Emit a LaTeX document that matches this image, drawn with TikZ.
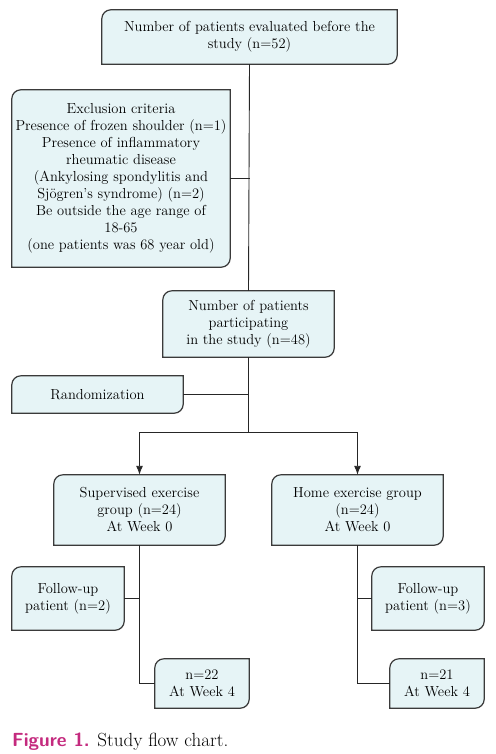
\documentclass[tikz,border=0pt]{standalone}
\usetikzlibrary{arrows.meta,calc}
\definecolor{boxfill}{HTML}{E6F4F6}
\definecolor{boxline}{HTML}{3A3A3A}
\definecolor{capmag}{HTML}{C42A7E}
\pgfdeclarelayer{background}
\pgfsetlayers{background,main}
\tikzset{
  fbox/.style={draw=none, align=center, inner sep=1pt, font=\fontsize{14.5}{17}\selectfont},
  conn/.style={draw=black!85, line width=0.9pt},
  arr/.style={conn, -{Latex[length=9pt,width=7pt]}},
  outline/.style={draw=boxline, fill=boxfill, line width=1.2pt}
}
\newcommand{\rbx}[1]{%
  \begin{pgfonlayer}{background}
  \path[outline] (#1.south west) -- ([yshift=-9pt]#1.north west) arc[start angle=180,end angle=90,radius=9pt] -- (#1.north east) -- ([yshift=9pt]#1.south east) arc[start angle=0,end angle=-90,radius=9pt] -- cycle;
  \end{pgfonlayer}}
\begin{document}
\begin{tikzpicture}[x=1pt,y=-1pt]
\useasboundingbox (0,0) rectangle (495,754);
\node[fbox, minimum width=295pt, minimum height=54pt] (top) at (249.5,37) {Number of patients evaluated before the\\study (n=52)};
\node[fbox, minimum width=218pt, minimum height=177pt] (excl) at (121,178.5) {Exclusion criteria\\Presence of frozen shoulder (n=1)\\Presence of inflammatory\\rheumatic disease\\(Ankylosing spondylitis and\\Sj\"ogren's syndrome) (n=2)\\Be outside the age range of\\18-65\\(one patients was 68 year old)};
\node[fbox, minimum width=171pt, minimum height=66pt] (part) at (248.5,324) {Number of patients\\participating\\in the study (n=48)};
\node[fbox, minimum width=171pt, minimum height=37pt] (rand) at (97.5,394.5) {Randomization};
\node[fbox, minimum width=171pt, minimum height=70pt] (sup) at (139.5,510) {Supervised exercise\\group (n=24)\\At Week 0};
\node[fbox, minimum width=171pt, minimum height=70pt] (home) at (357.5,510) {Home exercise group\\(n=24)\\At Week 0};
\node[fbox, minimum width=112pt, minimum height=63pt] (fl) at (68,598.5) {Follow-up\\patient (n=2)};
\node[fbox, minimum width=112pt, minimum height=63pt] (fr) at (428,598.5) {Follow-up\\patient (n=3)};
\node[fbox, minimum width=94pt, minimum height=49pt] (nl) at (202,683.5) {n=22\\At Week 4};
\node[fbox, minimum width=94pt, minimum height=49pt] (nr) at (437,683.5) {n=21\\At Week 4};
\foreach \b in {top,excl,part,rand,sup,home,fl,fr,nl,nr} {\rbx{\b}}
\coordinate (split) at (part.south |- 0,432);
\draw[conn] (top.south) -- (part.north);
\draw[conn] (excl.east) -- (excl.east -| top.south);
\draw[conn] (part.south) -- (split);
\draw[conn] (rand.east) -- (rand.east -| part.south);
\draw[arr] (split) -| (sup.north);
\draw[arr] (split) -| (home.north);
\draw[conn] (sup.south) |- (nl.west);
\draw[conn] (fl.east) -- (fl.east -| sup.south);
\draw[conn] (home.south) |- (nr.west);
\draw[conn] (fr.west) -- (fr.west -| home.south);
\node[anchor=base west, inner sep=0pt, font=\fontsize{19}{22}\selectfont] (cap) at (12,746) {\textcolor{capmag}{\sffamily\bfseries Figure 1.} Study flow chart.};
\end{tikzpicture}
\end{document}
